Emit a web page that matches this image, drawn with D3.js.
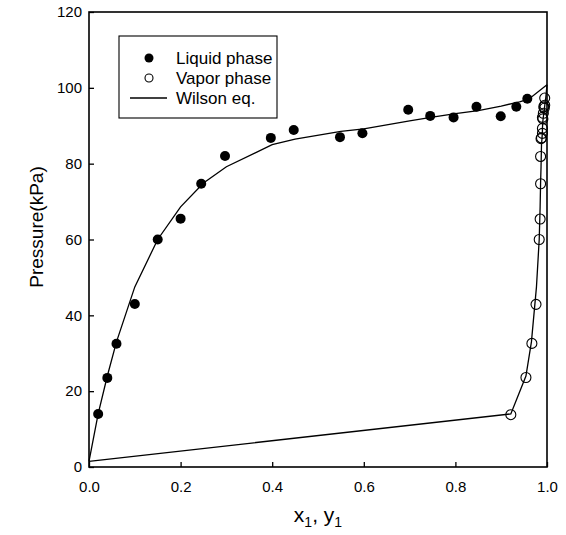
<!DOCTYPE html>
<html>
<head>
<meta charset="utf-8">
<script src="https://cdn.jsdelivr.net/npm/d3@7"></script>
<style>
  html, body { margin: 0; padding: 0; background: #fff; }
  svg { display: block; font-family: Arial, "Liberation Sans", sans-serif; }
</style>
</head>
<body>
<svg id="chart" width="566" height="535"></svg>
<script>
// Experimental liquid phase (x1, P)
const liquidX = [0.02, 0.04, 0.06, 0.10, 0.15, 0.20, 0.245, 0.297, 0.397, 0.447, 0.548, 0.597, 0.697, 0.745, 0.796, 0.846, 0.899, 0.933, 0.957];
const liquidP = [14.0, 23.5, 32.5, 43.0, 60.0, 65.5, 74.7, 82.0, 86.8, 88.9, 87.0, 88.0, 94.2, 92.6, 92.2, 95.0, 92.5, 95.0, 97.1];
// Experimental vapor phase (y1, P)
const vaporY = [0.921, 0.954, 0.967, 0.976, 0.983, 0.985, 0.986, 0.986, 0.987, 0.990, 0.988, 0.990, 0.994, 0.991, 0.990, 0.995, 0.992, 0.993, 0.995];
const vaporP = [13.8, 23.6, 32.6, 42.9, 60.0, 65.4, 74.7, 81.9, 86.6, 89.3, 86.8, 88.0, 94.6, 91.8, 92.2, 95.4, 93.3, 95.0, 97.3];
// Wilson equation – bubble curve (x1, P)
const wilsonX = [0.0, 0.02, 0.04, 0.06, 0.10, 0.15, 0.20, 0.25, 0.30, 0.40, 0.45, 0.55, 0.60, 0.70, 0.75, 0.80, 0.85, 0.90, 0.94, 0.96, 1.0];
const wilsonPx = [1.5, 14.0, 24.0, 33.0, 47.5, 60.0, 68.6, 74.9, 79.2, 85.0, 86.5, 88.5, 89.2, 91.3, 92.3, 93.2, 94.0, 95.2, 96.3, 97.0, 100.8];
// Wilson equation – dew curve (y1, P)
const wilsonY = [0.0, 0.921, 0.954, 0.966, 0.977, 0.983, 0.985, 0.986, 0.987, 0.988, 0.989, 0.990, 0.990, 0.991, 0.992, 0.993, 0.994, 0.995, 0.996, 0.997, 1.0];
const wilsonPy = [1.5, 14.0, 24.0, 33.0, 47.5, 60.0, 68.6, 74.9, 79.2, 85.0, 86.5, 88.5, 89.2, 91.3, 92.3, 93.2, 94.0, 95.2, 96.3, 97.0, 100.8];
// Axis ticks
const xTicks = [0.0, 0.2, 0.4, 0.6, 0.8, 1.0];
const yTicks = [0, 20, 40, 60, 80, 100, 120];
const legendLabels = ["Liquid phase", "Vapor phase", "Wilson eq."];

const svg = d3.select("#chart");
const L = 89, R = 547, T = 12, B = 467;
const x = d3.scaleLinear().domain([0, 1]).range([L, R]);
const y = d3.scaleLinear().domain([0, 120]).range([B, T]);

// Axes (ticks inward)
const xAxis = svg.append("g").attr("transform", `translate(0,${B})`)
  .call(d3.axisBottom(x).tickValues(xTicks).tickFormat(d3.format(".1f"))
    .tickSizeInner(-5).tickSizeOuter(0).tickPadding(14));
const yAxis = svg.append("g").attr("transform", `translate(${L},0)`)
  .call(d3.axisLeft(y).tickValues(yTicks).tickFormat(d3.format("d"))
    .tickSizeInner(-5).tickSizeOuter(0).tickPadding(7));
[xAxis, yAxis].forEach(g => {
  g.select(".domain").remove();
  g.selectAll(".tick line").attr("stroke", "#000").attr("stroke-width", 1.3);
  g.selectAll(".tick text").attr("fill", "#000").style("font-size", "15px")
    .style("font-family", "Arial, 'Liberation Sans', sans-serif");
});

// Frame
svg.append("rect").attr("x", L).attr("y", T).attr("width", R - L).attr("height", B - T)
  .attr("fill", "none").attr("stroke", "#000").attr("stroke-width", 1.6);

// Wilson curves
const line = d3.line();
svg.append("path")
  .attr("d", line(wilsonX.map((v, i) => [x(v), y(wilsonPx[i])])))
  .attr("fill", "none").attr("stroke", "#000").attr("stroke-width", 1.3);
svg.append("path")
  .attr("d", line(wilsonY.map((v, i) => [x(v), y(wilsonPy[i])])))
  .attr("fill", "none").attr("stroke", "#000").attr("stroke-width", 1.3);

// Liquid points
svg.append("g").selectAll("circle").data(liquidX).join("circle")
  .attr("cx", d => x(d)).attr("cy", (d, i) => y(liquidP[i])).attr("r", 5)
  .attr("fill", "#000");
// Vapor points
svg.append("g").selectAll("circle").data(vaporY).join("circle")
  .attr("cx", d => x(d)).attr("cy", (d, i) => y(vaporP[i])).attr("r", 5)
  .attr("fill", "none").attr("stroke", "#000").attr("stroke-width", 1.1);

// Legend
const lg = svg.append("g");
lg.append("rect").attr("x", 119).attr("y", 36).attr("width", 158).attr("height", 82)
  .attr("fill", "#fff").attr("stroke", "#000").attr("stroke-width", 1.1);
const rows = [58, 78, 98];
lg.append("circle").attr("cx", 149).attr("cy", rows[0]).attr("r", 4.5).attr("fill", "#000");
lg.append("circle").attr("cx", 149).attr("cy", rows[1]).attr("r", 4).attr("fill", "none")
  .attr("stroke", "#000").attr("stroke-width", 1.1);
lg.append("line").attr("x1", 130).attr("x2", 167).attr("y1", rows[2]).attr("y2", rows[2])
  .attr("stroke", "#000").attr("stroke-width", 1.3);
legendLabels.forEach((t, i) => {
  lg.append("text").attr("x", 176).attr("y", rows[i]).attr("dy", "0.35em")
    .style("font-size", "17px").attr("fill", "#000").text(t);
});

// Axis titles
svg.append("text").attr("transform", `translate(43,227) rotate(-90)`)
  .attr("text-anchor", "middle").style("font-size", "19px").text("Pressure(kPa)");
const xt = svg.append("text").attr("x", 318).attr("y", 522).attr("text-anchor", "middle")
  .style("font-size", "21px");
xt.append("tspan").text("x");
xt.append("tspan").attr("dy", 5).style("font-size", "14px").text("1");
xt.append("tspan").attr("dy", -5).text(", y");
xt.append("tspan").attr("dy", 5).style("font-size", "14px").text("1");
</script>
</body>
</html>
